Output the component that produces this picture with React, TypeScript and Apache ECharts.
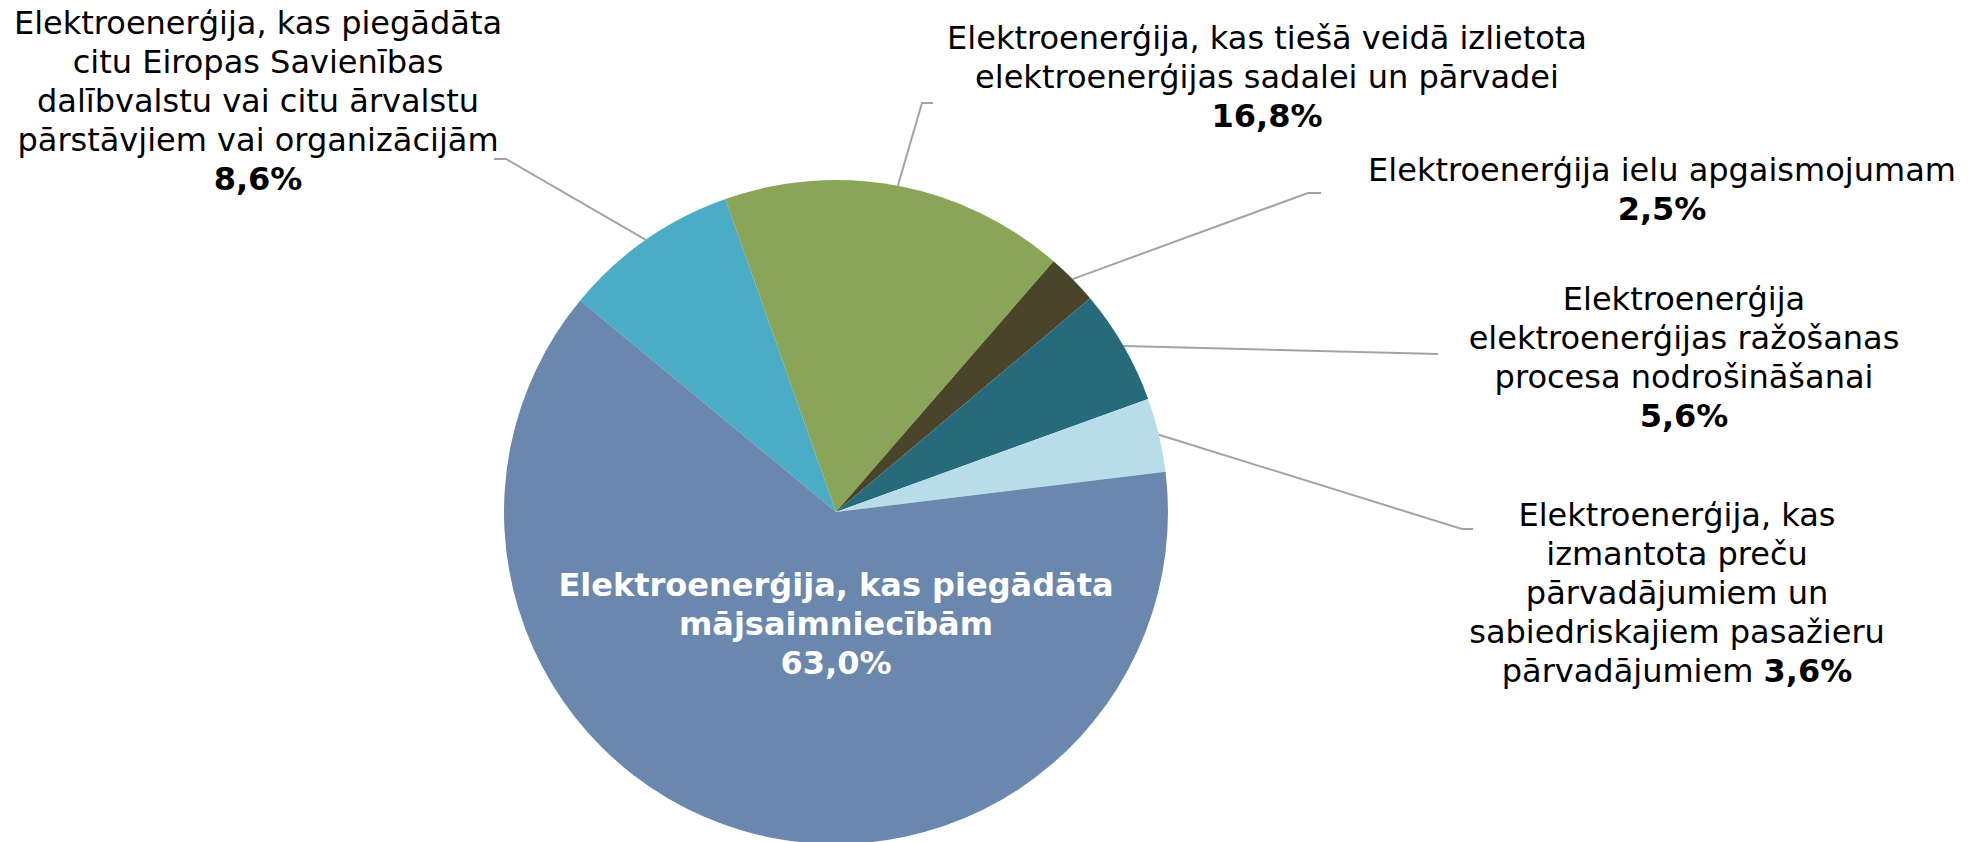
import React, { useEffect, useRef } from "react";
import * as echarts from "echarts";

const categories = [
  "Elektroenerģija, kas piegādāta\ncitu Eiropas Savienības\ndalībvalstu vai citu ārvalstu\npārstāvjiem vai organizācijām",
  "Elektroenerģija, kas tiešā veidā izlietota\nelektroenerģijas sadalei un pārvadei",
  "Elektroenerģija ielu apgaismojumam",
  "Elektroenerģija\nelektroenerģijas ražošanas\nprocesa nodrošināšanai",
  "Elektroenerģija, kas\nizmantota preču\npārvadājumiem un\nsabiedriskajiem pasažieru\npārvadājumiem",
  "Elektroenerģija, kas piegādāta\nmājsaimniecībām",
];
const values = [8.6, 16.8, 2.5, 5.6, 3.6, 63.0];
const colors = ["#4BACC6", "#8BA558", "#4A452A", "#276A7C", "#B7DEE8", "#6A87AD"];

// layout: label centres and leader-line bends (px)
const labelCenters = [
  [258, 101],
  [1267, 77],
  [1662, 189],
  [1684, 357],
  [1677, 593],
  [836, 624],
];
const leaderBends: number[][][] = [
  [[506, 159], [494, 159]],
  [[922, 103], [933, 103]],
  [[1308, 193], [1321, 193]],
  [[1438, 354]],
  [[1462, 529], [1473, 529]],
  [],
];
const inlinePercent = [false, false, false, false, true, false];
const insideLabel = [false, false, false, false, false, true];

const FONT = "DejaVu Sans";

function pct(v: number) {
  return v.toFixed(1).replace(".", ",") + "%";
}

export default function App() {
  const ref = useRef<HTMLDivElement>(null);
  useEffect(() => {
    if (!ref.current) return;
    const chart = echarts.init(ref.current, null, { renderer: "svg" });
    const data = values.map((v, i) => ({
      name: categories[i],
      value: v,
      itemStyle: { color: colors[i] },
      labelLine: { show: !insideLabel[i] },
    }));
    chart.setOption({
      animation: false,
      backgroundColor: "#ffffff",
      series: [
        {
          type: "pie",
          center: [836, 512],
          radius: 332,
          startAngle: 140.4,
          clockwise: true,
          avoidLabelOverlap: false,
          itemStyle: { borderWidth: 0 },
          data,
          label: {
            show: true,
            position: "outside",
            align: "center",
            formatter: (p: any) => {
              const i = p.dataIndex;
              if (insideLabel[i]) {
                return `{w|${p.name}}\n{w|${pct(p.value)}}`;
              }
              if (inlinePercent[i]) {
                return `{n|${p.name} }{b|${pct(p.value)}}`;
              }
              return `{n|${p.name}}\n{b|${pct(p.value)}}`;
            },
            rich: {
              n: { fontFamily: FONT, fontSize: 32, lineHeight: 39, color: "#000000", align: "center" },
              b: { fontFamily: FONT, fontSize: 32, lineHeight: 39, color: "#000000", fontWeight: "bold", align: "center" },
              w: { fontFamily: FONT, fontSize: 32, lineHeight: 39, color: "#ffffff", fontWeight: "bold", align: "center" },
            },
          },
          labelLine: {
            show: true,
            length: 10,
            length2: 10,
            smooth: false,
            lineStyle: { color: "#A3A3A3", width: 2 },
          },
          labelLayout: (params: any) => {
            const i = params.dataIndex;
            const c = labelCenters[i];
            const res: any = {
              x: c[0],
              y: c[1],
              align: "center",
              verticalAlign: "middle",
            };
            if (!insideLabel[i] && params.labelLinePoints) {
              res.labelLinePoints = [params.labelLinePoints[0], ...leaderBends[i]];
            }
            return res;
          },
        },
      ],
    });
    return () => chart.dispose();
  }, []);
  return (
    <div
      ref={ref}
      style={{ position: "absolute", left: 0, top: 0, width: 1977, height: 842 }}
    />
  );
}
